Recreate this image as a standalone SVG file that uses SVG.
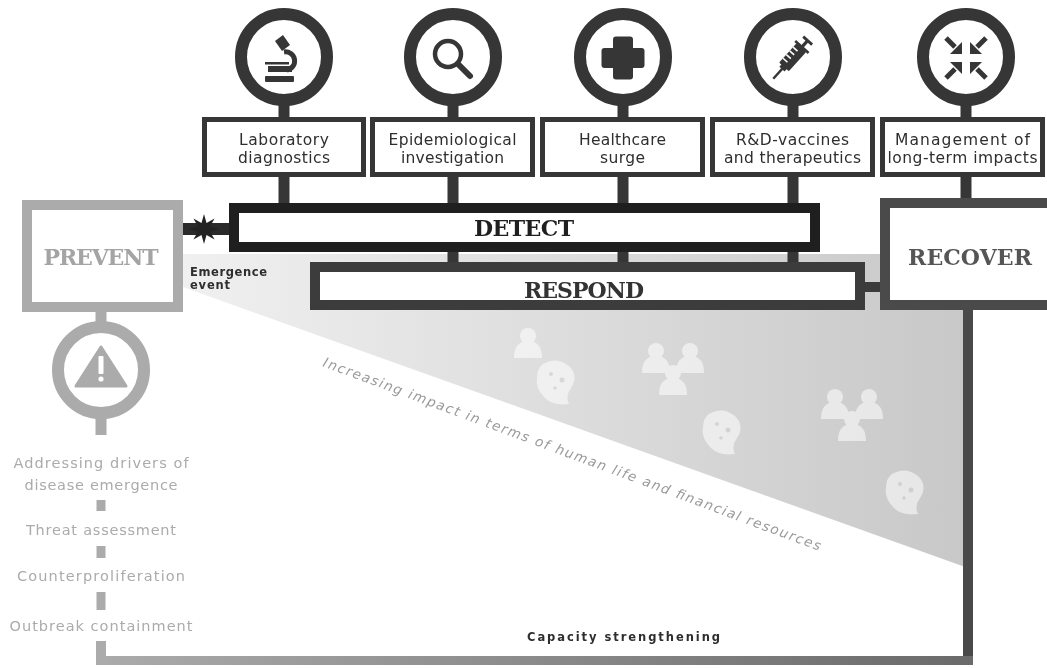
<svg xmlns="http://www.w3.org/2000/svg" width="1047" height="668" viewBox="0 0 1047 668">
  <defs>
    <style>
      .ring{fill:#fff;stroke:#363636;stroke-width:12}
      .box{fill:#fff;stroke:#363636;stroke-width:5}
      .lbl{font-family:"DejaVu Sans","Liberation Sans",sans-serif;font-size:15.5px;fill:#2e2e2e;text-anchor:middle}
      .phase{font-family:"DejaVu Serif","Liberation Serif",serif;font-weight:bold;font-size:22px;text-anchor:middle}
      .side{font-family:"DejaVu Sans","Liberation Sans",sans-serif;font-size:14.5px;fill:#ababab;text-anchor:middle}
      .note{font-family:"DejaVu Sans","Liberation Sans",sans-serif;font-weight:bold;font-size:11.5px;fill:#2e2e2e}
      .ico{fill:#363636}
      .dark{fill:#363636}
      .pale{fill:#ababab}
      .ghost{fill:#fff;opacity:.55}
      .spot{fill:#d4d4d4}
    </style>
    <linearGradient id="impactFill" x1="183" y1="0" x2="968" y2="0" gradientUnits="userSpaceOnUse">
      <stop offset="0" stop-color="#f0f0f0"/>
      <stop offset="1" stop-color="#c8c8c8"/>
    </linearGradient>
    <linearGradient id="baseLine" x1="96" y1="0" x2="973" y2="0" gradientUnits="userSpaceOnUse">
      <stop offset="0" stop-color="#ababab"/>
      <stop offset="1" stop-color="#6a6a6a"/>
    </linearGradient>
    <g id="person">
      <circle cx="0" cy="-11" r="8"/>
      <path d="M-14 11 q0 -17 14 -17 q14 0 14 17 z"/>
    </g>
    <g id="crowd">
      <use href="#person" x="-17" y="-10"/>
      <use href="#person" x="17" y="-10"/>
      <use href="#person" x="0" y="12"/>
    </g>
    <g id="microbe">
      <path d="M-14 -18 q14 -8 26 2 q10 10 2 22 q-6 8 -2 16 q-16 2 -24 -6 q-10 -10 -8 -20 q0 -10 6 -14 z"/>
      <circle class="spot" cx="-6" cy="-8" r="2"/>
      <circle class="spot" cx="5" cy="-2" r="2.5"/>
      <circle class="spot" cx="-2" cy="6" r="1.8"/>
    </g>
    <g id="inArrow">
      <path d="M-20 -20 L-11 -11" stroke="#363636" stroke-width="5"/>
      <path d="M-4 -4 L-16 -4 L-4 -16 Z"/>
    </g>
  </defs>

  <rect width="1047" height="668" fill="#fff"/>

  <!-- shaded wedge of growing impact -->
  <g id="impact">
    <polygon points="183,254 968,254 968,568 183,287" fill="url(#impactFill)"/>
    <g class="ghost">
      <use href="#person" x="528" y="347"/>
      <use href="#microbe" x="557" y="382"/>
      <use href="#crowd" x="673" y="372"/>
      <use href="#microbe" x="723" y="432"/>
      <use href="#crowd" x="852" y="418"/>
      <use href="#microbe" x="906" y="492"/>
    </g>
    <text transform="translate(322,366) rotate(20.4)" font-family="'DejaVu Sans','Liberation Sans',sans-serif" font-style="italic" font-size="13.5" fill="#999" textLength="530">Increasing impact in terms of human life and financial resources</text>
  </g>

  <!-- connectors -->
  <g id="connectors">
    <!-- circle to label box -->
    <rect class="dark" x="278.5" y="104" width="11" height="15"/>
    <rect class="dark" x="447.5" y="104" width="11" height="15"/>
    <rect class="dark" x="617.5" y="104" width="11" height="15"/>
    <rect class="dark" x="787.5" y="104" width="11" height="15"/>
    <rect class="dark" x="960.5" y="104" width="11" height="15"/>
    <!-- label box to DETECT -->
    <rect class="dark" x="278.5" y="176" width="11" height="29"/>
    <rect class="dark" x="447.5" y="176" width="11" height="29"/>
    <rect class="dark" x="617.5" y="176" width="11" height="29"/>
    <rect class="dark" x="787.5" y="176" width="11" height="29"/>
    <!-- DETECT to RESPOND -->
    <rect class="dark" x="447.5" y="250" width="11" height="14"/>
    <rect class="dark" x="617.5" y="250" width="11" height="14"/>
    <rect class="dark" x="787.5" y="250" width="11" height="14"/>
    <!-- long-term impacts to RECOVER -->
    <rect class="dark" x="960.5" y="176" width="11" height="24"/>
    <!-- RESPOND to RECOVER -->
    <rect fill="#3c3c3c" x="863" y="282" width="19" height="10"/>
    <!-- PREVENT to DETECT through the emergence event -->
    <rect fill="#2a2a2a" x="181" y="223" width="50" height="12"/>
    <!-- capacity strengthening loop -->
    <rect fill="#4a4a4a" x="963" y="308" width="10" height="357"/>
    <rect fill="url(#baseLine)" x="96" y="656" width="877" height="9"/>
    <!-- PREVENT column -->
    <rect class="pale" x="95.5" y="310" width="11" height="13"/>
    <rect class="pale" x="95.5" y="417" width="11" height="18"/>
    <rect class="pale" x="96.5" y="500" width="9" height="11"/>
    <rect class="pale" x="96.5" y="546" width="9" height="12"/>
    <rect class="pale" x="96.5" y="592" width="9" height="18"/>
    <rect class="pale" x="96" y="641" width="10" height="21"/>
  </g>

  <!-- capability circles -->
  <g id="icon-lab">
    <circle class="ring" cx="284" cy="57" r="43"/>
    <g class="ico">
      <path d="M275 41 l8 -6 l7 10 l-8 6 z"/>
      <path d="M284 52 a9 9 0 0 1 3 18" fill="none" stroke="#363636" stroke-width="5"/>
      <rect x="265" y="62" width="24" height="2.5"/>
      <rect x="268" y="66" width="24" height="6"/>
      <rect x="265" y="76" width="29" height="6" rx="1"/>
    </g>
  </g>
  <g id="icon-epi">
    <circle class="ring" cx="453" cy="57" r="43"/>
    <circle cx="448" cy="54" r="13" fill="none" stroke="#363636" stroke-width="4.5"/>
    <path d="M458 64 L470 76" stroke="#363636" stroke-width="6" stroke-linecap="round"/>
  </g>
  <g id="icon-health">
    <circle class="ring" cx="623" cy="57" r="43"/>
    <g class="ico">
      <rect x="601.5" y="48" width="43" height="20" rx="3"/>
      <rect x="613" y="36.5" width="20" height="43" rx="3"/>
    </g>
  </g>
  <g id="icon-rd">
    <circle class="ring" cx="793" cy="57" r="43"/>
    <g class="ico" transform="translate(792,58) rotate(-48)">
      <rect x="-12" y="-6.5" width="26" height="13" rx="1"/>
      <rect x="-28" y="-1.2" width="17" height="2.4"/>
      <rect x="-15" y="-3.5" width="4" height="7"/>
      <rect x="14" y="-1.6" width="9" height="3.2"/>
      <rect x="13.5" y="-9" width="2.6" height="18"/>
      <rect x="22" y="-6" width="2.8" height="12"/>
      <g fill="#fff">
        <rect x="-7" y="-6.5" width="1.6" height="6"/>
        <rect x="-2" y="-6.5" width="1.6" height="6"/>
        <rect x="3" y="-6.5" width="1.6" height="6"/>
        <rect x="8" y="-6.5" width="1.6" height="6"/>
      </g>
    </g>
  </g>
  <g id="icon-recover">
    <circle class="ring" cx="966" cy="57" r="43"/>
    <g class="ico" transform="translate(966,58)">
      <use href="#inArrow"/>
      <use href="#inArrow" transform="rotate(90)"/>
      <use href="#inArrow" transform="rotate(180)"/>
      <use href="#inArrow" transform="rotate(270)"/>
    </g>
  </g>

  <!-- capability labels -->
  <g id="box-lab">
    <rect class="box" x="204.5" y="119.5" width="159" height="55"/>
    <text class="lbl" x="284" y="145" textLength="90">Laboratory</text>
    <text class="lbl" x="284" y="163" textLength="92">diagnostics</text>
  </g>
  <g id="box-epi">
    <rect class="box" x="372.5" y="119.5" width="160" height="55"/>
    <text class="lbl" x="452.5" y="145" textLength="128">Epidemiological</text>
    <text class="lbl" x="452.5" y="163" textLength="103">investigation</text>
  </g>
  <g id="box-health">
    <rect class="box" x="542.5" y="119.5" width="160" height="55"/>
    <text class="lbl" x="622.5" y="145" textLength="87">Healthcare</text>
    <text class="lbl" x="622.5" y="163" textLength="45">surge</text>
  </g>
  <g id="box-rd">
    <rect class="box" x="712.5" y="119.5" width="160" height="55"/>
    <text class="lbl" x="792.5" y="145" textLength="113">R&amp;D-vaccines</text>
    <text class="lbl" x="792.5" y="163" textLength="137">and therapeutics</text>
  </g>
  <g id="box-impacts">
    <rect class="box" x="882.5" y="119.5" width="160" height="55"/>
    <text class="lbl" x="962.5" y="145" textLength="135">Management of</text>
    <text class="lbl" x="962.5" y="163" textLength="150">long-term impacts</text>
  </g>

  <!-- phases -->
  <g id="detect">
    <rect x="234" y="208" width="581" height="39" fill="#fff" stroke="#1f1f1f" stroke-width="10"/>
    <text class="phase" x="524" y="236" fill="#1f1f1f" textLength="100">DETECT</text>
  </g>
  <g id="respond">
    <rect x="315" y="267" width="545" height="38" fill="#fff" stroke="#3c3c3c" stroke-width="10"/>
    <text class="phase" x="584" y="298" fill="#333" textLength="120">RESPOND</text>
  </g>
  <g id="recover">
    <rect x="885" y="203" width="185" height="102" fill="#fff" stroke="#4a4a4a" stroke-width="10"/>
    <text class="phase" x="970" y="265" fill="#555" textLength="124">RECOVER</text>
  </g>
  <g id="prevent">
    <rect x="27" y="205" width="151" height="102" fill="#fff" stroke="#ababab" stroke-width="10"/>
    <text class="phase" x="101" y="265" fill="#a4a4a4" textLength="115">PREVENT</text>
  </g>

  <!-- emergence event -->
  <g id="emergence">
    <polygon fill="#222" points="204,214 206.5,223 214.6,218.4 210,226.5 219,229 210,231.5 214.6,239.6 206.5,235 204,244 201.5,235 193.4,239.6 198,231.5 189,229 198,226.5 193.4,218.4 201.5,223"/>
    <text class="note" x="190" y="276" textLength="77">Emergence</text>
    <text class="note" x="190" y="289" textLength="40">event</text>
  </g>

  <!-- prevention measures -->
  <g id="icon-prevent">
    <circle cx="101" cy="370" r="43" fill="#fff" stroke="#ababab" stroke-width="12"/>
    <path d="M101 347 L126 386 L76 386 Z" fill="#ababab" stroke="#ababab" stroke-width="3" stroke-linejoin="round"/>
    <rect x="98.5" y="356" width="5" height="18" rx="1" fill="#fff"/>
    <circle cx="101" cy="379" r="2.6" fill="#fff"/>
  </g>
  <g id="prevent-measures">
    <text class="side" x="101" y="468" textLength="175">Addressing drivers of</text>
    <text class="side" x="101" y="490" textLength="153">disease emergence</text>
    <text class="side" x="101" y="535" textLength="150">Threat assessment</text>
    <text class="side" x="101" y="581" textLength="168">Counterproliferation</text>
    <text class="side" x="101" y="631" textLength="183">Outbreak containment</text>
  </g>

  <g id="capacity">
    <text class="note" x="527" y="641" font-size="12.5" textLength="193">Capacity strengthening</text>
  </g>
</svg>
